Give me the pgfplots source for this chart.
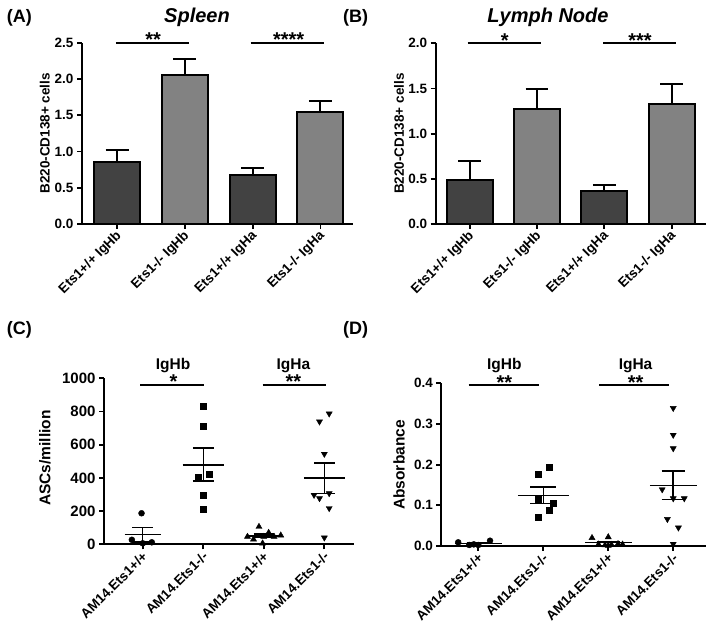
\documentclass[border=0pt]{standalone}
\usepackage{fontspec}
\setmainfont{Liberation Sans}
\usepackage{pgfplots}
\pgfplotsset{compat=1.18}
\definecolor{bdark}{RGB}{66,66,66}
\definecolor{blight}{RGB}{130,130,130}
\newcommand{\fs}[1]{\fontsize{#1}{#1}\selectfont\bfseries}
\pgfplotsset{
 gp/.style={
  scale only axis,
  axis lines=left,
  axis line style={line width=2.2pt,-},
  clip=false,
  xtick={0,1,2,3},
  tick align=outside,
  major tick length=5pt,
  tick style={line width=1.8pt,black},
  /pgf/number format/assume math mode=true,
  yticklabel style={font=\fs{13.5}},
  xticklabel style={font=\fs{13.5}, rotate=45, anchor=east, xshift=1.5pt, yshift=-5pt},
  ylabel style={font=\fs{13.5}, anchor=center},
 },
 barp/.style={ybar, bar width=46pt, bar shift=0pt, draw=black, line width=2pt},
 ebar/.style={black, line width=2pt, unbounded coords=jump, no marks},
 sm/.style={only marks, mark size=3pt, black},
 mline/.style={black, line width=1.5pt, unbounded coords=jump, no marks},
 sig/.style={black, line width=2pt, no marks},
}
\begin{document}
\begin{tikzpicture}[x=1pt,y=1pt]
\path[use as bounding box] (0,0) rectangle (714,631);

% ---------------- (A) Spleen
\begin{axis}[gp, at={(82pt,407pt)}, anchor=south west, width=271pt, height=181.3pt,
 xmin=-0.52, xmax=3.48, ymin=0, ymax=2.5, ytick={0,0.5,1,1.5,2,2.5},
 yticklabel style={/pgf/number format/.cd, fixed, fixed zerofill, precision=1},
 xticklabels={Ets1+/+ IgHb, Ets1-/- IgHb, Ets1+/+ IgHa, Ets1-/- IgHa},
 ylabel={B220-CD138+ cells}, ylabel style={at={(axis description cs:-0.137,0.5)}}]
\addplot[barp, fill=bdark] coordinates {(0,0.85) (2,0.68)};
\addplot[barp, fill=blight] coordinates {(1,2.05) (3,1.55)};
\addplot[ebar] coordinates {(0,0.85) (0,1.02) (0,nan) (-0.17,1.02) (0.17,1.02) (0,nan)
  (1,2.05) (1,2.27) (1,nan) (0.83,2.27) (1.17,2.27) (1,nan)
  (2,0.68) (2,0.77) (2,nan) (1.83,0.77) (2.17,0.77) (2,nan)
  (3,1.55) (3,1.70) (3,nan) (2.83,1.70) (3.17,1.70)};
\addplot[sig] coordinates {(-0.02,2.5) (1.06,2.5)};
\addplot[sig] coordinates {(1.97,2.5) (3.05,2.5)};
\node[font=\fs{20}, anchor=base, yshift=-4.3pt] at (axis cs:0.53,2.5) {**};
\node[font=\fs{20}, anchor=base, yshift=-4.3pt] at (axis cs:2.53,2.5) {****};
\end{axis}

% ---------------- (B) Lymph Node
\begin{axis}[gp, at={(435.7pt,407pt)}, anchor=south west, width=270pt, height=180.7pt,
 xmin=-0.505, xmax=3.505, ymin=0, ymax=2, ytick={0,0.5,1,1.5,2},
 yticklabel style={/pgf/number format/.cd, fixed, fixed zerofill, precision=1},
 xticklabels={Ets1+/+ IgHb, Ets1-/- IgHb, Ets1+/+ IgHa, Ets1-/- IgHa},
 ylabel={B220-CD138+ cells}, ylabel style={at={(axis description cs:-0.136,0.5)}}]
\addplot[barp, fill=bdark] coordinates {(0,0.49) (2,0.37)};
\addplot[barp, fill=blight] coordinates {(1,1.27) (3,1.33)};
\addplot[ebar] coordinates {(0,0.49) (0,0.70) (0,nan) (-0.17,0.70) (0.17,0.70) (0,nan)
  (1,1.27) (1,1.49) (1,nan) (0.83,1.49) (1.17,1.49) (1,nan)
  (2,0.37) (2,0.43) (2,nan) (1.83,0.43) (2.17,0.43) (2,nan)
  (3,1.33) (3,1.55) (3,nan) (2.83,1.55) (3.17,1.55)};
\addplot[sig] coordinates {(-0.03,2) (1.06,2)};
\addplot[sig] coordinates {(1.98,2) (3.07,2)};
\node[font=\fs{20}, anchor=base, yshift=-4.3pt] at (axis cs:0.52,2) {*};
\node[font=\fs{20}, anchor=base, yshift=-4.3pt] at (axis cs:2.53,2) {***};
\end{axis}

% ---------------- (C) ASCs
\begin{axis}[gp, at={(104pt,86.7pt)}, anchor=south west, width=250pt, height=166pt,
 xmin=-0.64, xmax=3.49, ymin=0, ymax=1000, ytick={0,200,400,600,800,1000},
 scaled y ticks=false,
 yticklabel style={font=\fs{15}, /pgf/number format/.cd, 1000 sep={}},
 xticklabels={AM14.Ets1+/+, AM14.Ets1-/-, AM14.Ets1+/+, AM14.Ets1-/-},
 ylabel={ASCs/million}, ylabel style={font=\fs{15.5}, at={(axis description cs:-0.236,0.52)}}]
\addplot[sm, mark=*] coordinates {(-0.02,187) (-0.18,27) (0,6) (0.15,12)};
\addplot[sm, mark=square*] coordinates {(1,833) (1,709) (0.92,404) (1.09,422) (1,293) (1,214)};
\addplot[sm, mark=triangle*, mark size=3.5pt] coordinates {(1.92,106) (1.73,46) (1.83,30) (2.08,70) (2.17,46) (2.28,54) (1.98,6) (2,46)};
\addplot[sm, mark=triangle*, mark size=3.5pt, mark options={rotate=180}] coordinates {(2.92,739) (3.08,787) (3,544) (2.83,297) (2.92,277) (3.08,307) (3.08,217) (3,40)};
\addplot[mline] coordinates {(-0.3,58) (0.3,58) (0,nan) (0,15) (0,101) (0,nan) (-0.17,101) (0.17,101) (0,nan) (-0.17,15) (0.17,15)};
\addplot[mline] coordinates {(0.66,479) (1.34,479) (1,nan) (1,381) (1,579) (1,nan) (0.83,579) (1.17,579) (1,nan) (0.83,381) (1.17,381)};
\addplot[mline] coordinates {(1.7,50) (2.3,50) (2,nan) (2,40) (2,61) (2,nan) (1.83,61) (2.17,61) (2,nan) (1.83,40) (2.17,40)};
\addplot[mline] coordinates {(2.66,398) (3.34,398) (3,nan) (3,305) (3,491) (3,nan) (2.83,491) (3.17,491) (3,nan) (2.83,305) (3.17,305)};
\addplot[sig] coordinates {(-0.04,960) (1.02,960)};
\addplot[sig] coordinates {(1.98,960) (3.02,960)};
\node[font=\fs{20}, anchor=base, yshift=-3.6pt] at (axis cs:0.51,960) {*};
\node[font=\fs{20}, anchor=base, yshift=-3.6pt] at (axis cs:2.49,960) {**};
\node[font=\fs{15.5}, anchor=base, yshift=15.7pt] at (axis cs:0.5,960) {IgHb};
\node[font=\fs{15.5}, anchor=base, yshift=15.7pt] at (axis cs:2.49,960) {IgHa};
\end{axis}

% ---------------- (D) Absorbance
\begin{axis}[gp, at={(441.3pt,85pt)}, anchor=south west, width=264.4pt, height=162.7pt,
 xmin=-0.57, xmax=3.5, ymin=0, ymax=0.4, ytick={0,0.1,0.2,0.3,0.4},
 yticklabel style={/pgf/number format/.cd, fixed, fixed zerofill, precision=1},
 xticklabels={AM14.Ets1+/+, AM14.Ets1-/-, AM14.Ets1+/+, AM14.Ets1-/-},
 ylabel={Absorbance}, ylabel style={font=\fs{15.5}, at={(axis description cs:-0.16,0.498)}}]
\addplot[sm, mark=*] coordinates {(-0.31,0.009) (-0.14,0.0025) (-0.07,0.004) (0,0.0025) (0.18,0.013)};
\addplot[sm, mark=square*] coordinates {(1.09,0.193) (0.92,0.176) (0.92,0.115) (1.16,0.105) (1.09,0.087) (0.92,0.072)};
\addplot[sm, mark=triangle*, mark size=3.5pt] coordinates {(1.75,0.020) (2,0.022) (1.85,0.004) (1.95,0.002) (2.05,0.003) (2.15,0.005) (2,0.001) (2.22,0.004)};
\addplot[sm, mark=triangle*, mark size=3.5pt, mark options={rotate=180}] coordinates {(3,0.339) (3,0.273) (3,0.240) (2.83,0.139) (3,0.117) (3.17,0.117) (2.91,0.066) (3.08,0.045) (3,0.005)};
\addplot[mline] coordinates {(-0.36,0.0065) (0.36,0.0065) (0,nan) (0,0.0045) (0,0.0085) (0,nan) (-0.18,0.0085) (0.18,0.0085)};
\addplot[mline] coordinates {(0.61,0.1247) (1.39,0.1247) (1,nan) (1,0.1047) (1,0.1447) (1,nan) (0.8,0.1447) (1.2,0.1447) (1,nan) (0.8,0.1047) (1.2,0.1047)};
\addplot[mline] coordinates {(1.64,0.008) (2.36,0.008) (2,nan) (2,0.005) (2,0.011) (2,nan) (1.82,0.011) (2.18,0.011)};
\addplot[mline] coordinates {(2.64,0.149) (3.36,0.149) (3,nan) (3,0.114) (3,0.184) (3,nan) (2.82,0.184) (3.18,0.184) (3,nan) (2.82,0.114) (3.18,0.114)};
\addplot[sig] coordinates {(-0.15,0.396) (0.94,0.396)};
\addplot[sig] coordinates {(1.86,0.396) (2.93,0.396)};
\node[font=\fs{20}, anchor=base, yshift=-4.6pt] at (axis cs:0.4,0.396) {**};
\node[font=\fs{20}, anchor=base, yshift=-4.6pt] at (axis cs:2.42,0.396) {**};
\node[font=\fs{15.5}, anchor=base, yshift=15.7pt] at (axis cs:0.4,0.396) {IgHb};
\node[font=\fs{15.5}, anchor=base, yshift=15.7pt] at (axis cs:2.42,0.396) {IgHa};
\end{axis}

% ---------------- titles and panel letters
\node[font=\fs{18}, anchor=base west, inner sep=0pt] at (6.7,608.3) {(A)};
\node[font=\fs{18}, anchor=base west, inner sep=0pt] at (343,608.3) {(B)};
\node[font=\fs{18}, anchor=base west, inner sep=0pt] at (6.7,296) {(C)};
\node[font=\fs{18}, anchor=base west, inner sep=0pt] at (343,296) {(D)};
\node[font=\fs{20}\itshape, anchor=base, inner sep=0pt] at (197,608.3) {Spleen};
\node[font=\fs{20}\itshape, anchor=base, inner sep=0pt] at (548,608.3) {Lymph Node};
\end{tikzpicture}
\end{document}
